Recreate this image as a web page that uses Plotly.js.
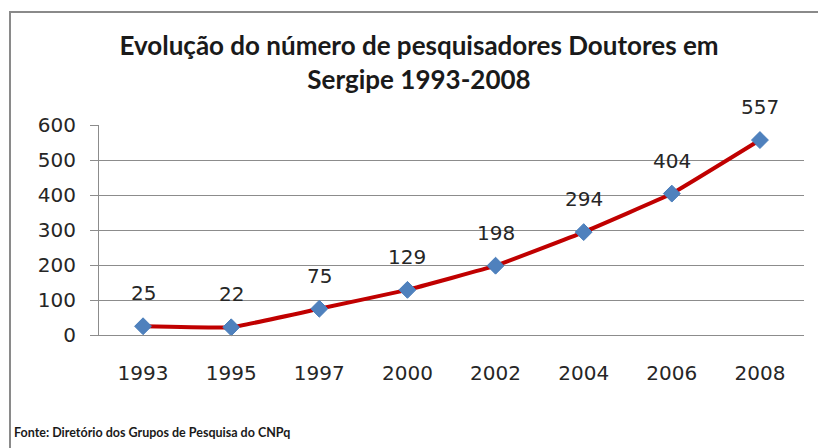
<!DOCTYPE html>
<html>
<head>
<meta charset="utf-8">
<script src="https://cdn.plot.ly/plotly-3.0.1.min.js"></script>
<style>
html,body{margin:0;padding:0;background:#fff;}
#chart{width:818px;height:448px;}
</style>
</head>
<body>
<div id="chart"></div>
<script>
const years = ["1993","1995","1997","2000","2002","2004","2006","2008"];
const doutores = [25, 22, 75, 129, 198, 294, 404, 557];
const yTicks = [0, 100, 200, 300, 400, 500, 600];
const chartTitle = "Evolução do número de pesquisadores Doutores em<br>Sergipe 1993-2008";
const sourceNote = "Fonte: Diretório dos Grupos de Pesquisa do CNPq";

const tickFont = {family: "DejaVu Sans", size: 20, color: "#262626"};

const trace = {
  x: years,
  y: doutores,
  type: "scatter",
  mode: "lines+markers",
  line: {color: "#C00000", width: 4, shape: "spline", smoothing: 0.25},
  marker: {symbol: "diamond", size: 13, color: "#4F81BD", line: {color: "#4A7EBB", width: 1}},
  hoverinfo: "x+y",
  cliponaxis: false
};

const labelAnnotations = years.map((yr, i) => ({
  x: i, y: doutores[i], xref: "x", yref: "y",
  text: String(doutores[i]), showarrow: false,
  yanchor: "middle", xanchor: "center", yshift: 33,
  font: tickFont
}));

const layout = {
  width: 818, height: 448,
  margin: {l: 99, r: 14, t: 125, b: 113},
  paper_bgcolor: "#ffffff",
  plot_bgcolor: "#ffffff",
  showlegend: false,
  title: {
    text: chartTitle,
    font: {family: "Lato", size: 26, color: "#1a1a1a", weight: "bold"},
    x: 419 / 818, xanchor: "center", xref: "container",
    y: 1 - 55/448, yanchor: "top", yref: "container"
  },
  xaxis: {
    type: "category",
    range: [-0.5, years.length - 0.5],
    showgrid: false,
    showline: true, linecolor: "#8c8c8c", linewidth: 1,
    ticks: "", tickfont: tickFont,
    ticklabelstandoff: 20,
    zeroline: false, fixedrange: true
  },
  yaxis: {
    range: [0, 600],
    tickvals: yTicks,
    showgrid: true, gridcolor: "#8c8c8c", gridwidth: 1,
    showline: true, linecolor: "#8c8c8c", linewidth: 1,
    ticks: "outside", ticklen: 8, tickcolor: "#8c8c8c",
    tickfont: tickFont, ticklabelstandoff: 10,
    zeroline: false, fixedrange: true
  },
  annotations: labelAnnotations.concat([{
    text: "<b>" + sourceNote + "</b>",
    xref: "paper", yref: "paper",
    x: (12 - 99) / 705, y: (335 - 432) / 210,
    xanchor: "left", yanchor: "middle", showarrow: false,
    font: {family: "Lato", size: 12.5, color: "#1a1a1a"}
  }]),
  shapes: [{
    type: "rect", xref: "paper", yref: "paper",
    x0: (10 - 99) / 705, x1: (840 - 99) / 705,
    y0: (335 - 480) / 210, y1: (335 - 12) / 210,
    line: {color: "#8a8a8a", width: 2}, layer: "below"
  }]
};

Plotly.newPlot("chart", [trace], layout, {displayModeBar: false, staticPlot: true});
</script>
</body>
</html>
